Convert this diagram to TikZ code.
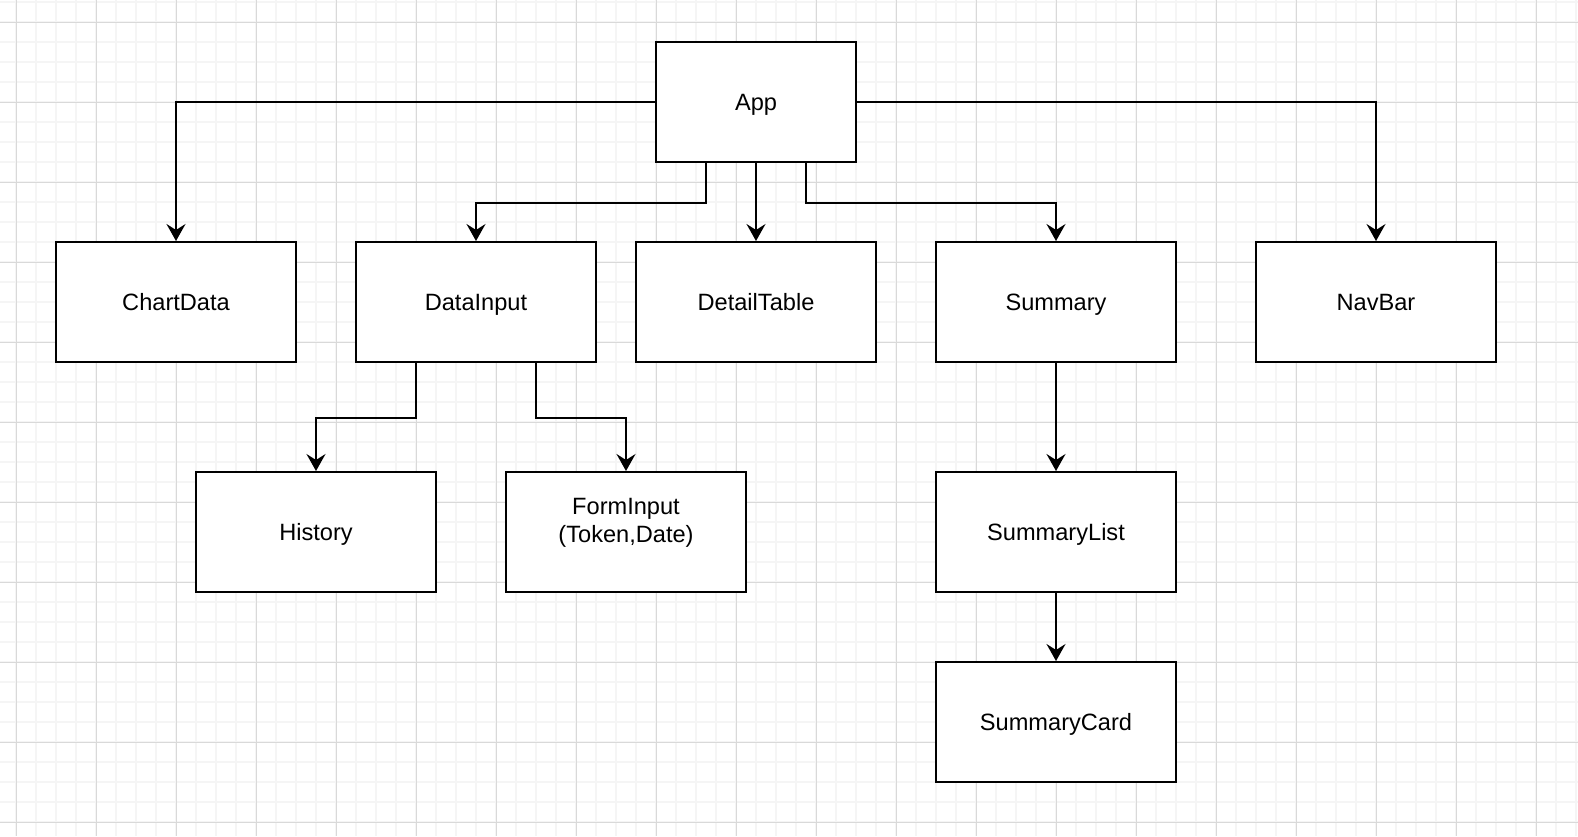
\documentclass[tikz,border=0pt]{standalone}
\usepackage{fontspec}
\setmainfont{Liberation Sans}
\usepackage{tikz}
\usetikzlibrary{arrows.meta}

\tikzset{
  comp/.style={draw, line width=1pt, fill=white, minimum width=120pt, minimum height=60pt, inner sep=2pt, align=center, text height=10pt, text depth=1.8pt, font=\fontsize{11.8}{14}\selectfont},
  link/.style={line width=1pt, -{Stealth[length=8.5pt, width=9.5pt, inset=3pt]}},
  minorline/.style={line width=1pt, black!4},
  majorline/.style={line width=0.5pt, black!15}
}

\begin{document}
\begin{tikzpicture}[x=0.5pt, y=-0.5pt]
\useasboundingbox (0,0) rectangle (1578,836);
\fill[white] (0,0) rectangle (1578,836);
% grid
\foreach \gx in {-4,16,...,1576} \draw[minorline] (\gx,0) -- (\gx,836);
\foreach \gy in {2,22,...,832} \draw[minorline] (0,\gy) -- (1578,\gy);
\foreach \gx in {16,96,...,1576} \draw[majorline] (\gx,0) -- (\gx,836);
\foreach \gy in {22,102,...,832} \draw[majorline] (0,\gy) -- (1578,\gy);

\begin{scope}
    \node[comp, minimum width=100pt] (app) at (756,102) {App};
    \node[comp] (chart) at (176,302) {ChartData};
    \node[comp] (input) at (476,302) {DataInput};
    \node[comp] (table) at (756,302) {DetailTable};
    \node[comp] (summary) at (1056,302) {Summary};
    \node[comp] (nav) at (1376,302) {NavBar};
    \node[comp] (history) at (316,532) {History};
    \node[comp, text height=12pt] (form) at (626,532) {FormInput\\(Token,Date)};
    \node[comp] (list) at (1056,532) {SummaryList};
    \node[comp] (card) at (1056,722) {SummaryCard};

    \draw[link] (app.west) -| (chart.north);
    \draw[link] (app.east) -| (nav.north);
    \draw[link] ([xshift=-25pt]app.south) -- ++(0,40) -| (input.north);
    \draw[link] (app.south) -- (table.north);
    \draw[link] ([xshift=25pt]app.south) -- ++(0,40) -| (summary.north);
    \draw[link] ([xshift=-30pt]input.south) -- ++(0,55) -| (history.north);
    \draw[link] ([xshift=30pt]input.south) -- ++(0,55) -| (form.north);
    \draw[link] (summary.south) -- (list.north);
    \draw[link] (list.south) -- (card.north);
\end{scope}
\end{tikzpicture}
\end{document}
